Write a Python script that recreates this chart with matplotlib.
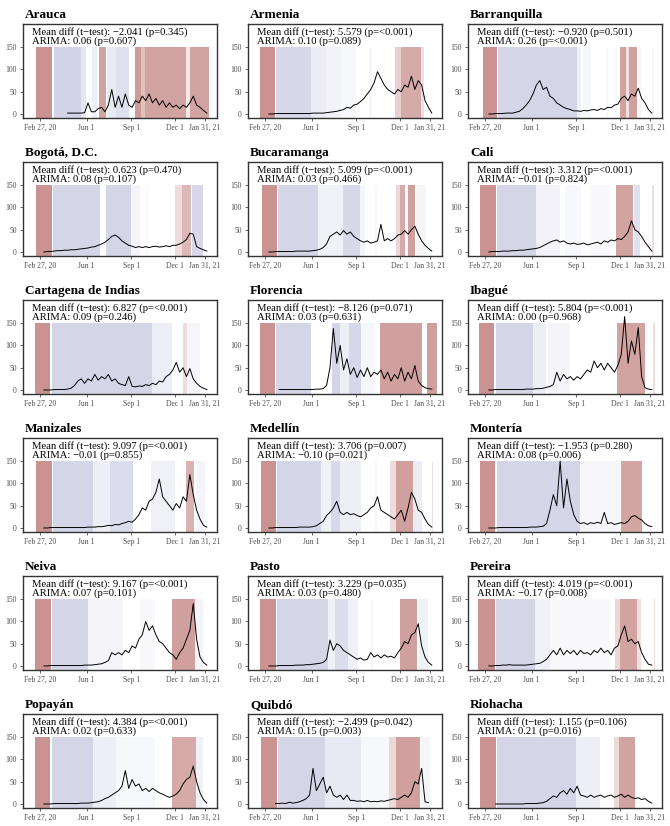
import numpy as np
import pandas as pd
import matplotlib
matplotlib.use("Agg")
import matplotlib.pyplot as plt

plt.rcParams['font.family'] = ['Liberation Serif', 'DejaVu Serif']

cities = ["Arauca", "Armenia", "Barranquilla", "Bogotá, D.C.", "Bucaramanga", "Cali",
          "Cartagena de Indias", "Florencia", "Ibagué", "Manizales", "Medellín", "Montería",
          "Neiva", "Pasto", "Pereira", "Popayán", "Quibdó", "Riohacha"]
mean_diff = [-2.041, 5.579, -0.920, 0.623, 5.099, 3.312, 6.827, -8.126, 5.804,
             9.097, 3.706, -1.953, 9.167, 3.229, 4.019, 4.384, -2.499, 1.155]
ttest_p = ["0.345", "<0.001", "0.501", "0.470", "<0.001", "<0.001", "<0.001", "0.071", "<0.001",
           "<0.001", "0.007", "0.280", "<0.001", "0.035", "<0.001", "<0.001", "0.042", "0.106"]
arima = [0.06, 0.10, 0.26, 0.08, 0.03, -0.01, 0.09, 0.03, 0.00,
         -0.01, -0.10, 0.08, 0.07, 0.03, -0.17, 0.02, 0.15, 0.21]
arima_p = ["0.607", "0.089", "<0.001", "0.107", "0.466", "0.824", "0.246", "0.631", "0.968",
           "0.855", "0.021", "0.006", "0.101", "0.480", "0.008", "0.633", "0.003", "0.016"]

# weekly readings, 2020-03-05 .. 2021-02-04 (None = no data yet)
week_start = "2020-03-05"
arauca = [None]*7 + [2, 2, 2, 2, 2, 3, 25, 5, 5, 12, 15, 5, 20, 55, 15, 40, 15, 45, 20, 15, 30, 25,
                     40, 30, 45, 25, 35, 20, 30, 15, 25, 15, 20, 12, 20, 15, 25, 40, 20, 15, 8, 2]
armenia = [0, 0, 1, 1, 1, 1, 1, 1, 1, 1, 1, 1, 1, 2, 2, 2, 2, 3, 4, 5, 6, 8, 10, 15, 13, 20, 22, 28,
           35, 45, 55, 70, 95, 80, 65, 55, 50, 45, 55, 50, 65, 60, 85, 55, 75, 65, 30, 15, 2]
barranquilla = [0, 0, 1, 1, 1, 2, 2, 2, 4, 6, 12, 20, 30, 45, 65, 75, 55, 60, 40, 35, 25, 20, 15, 12,
                10, 7, 7, 6, 8, 7, 9, 10, 8, 12, 10, 15, 14, 20, 22, 35, 40, 30, 45, 40, 58, 35, 25, 10, 2]
bogota = [0, 1, 1, 2, 3, 3, 4, 4, 5, 5, 6, 7, 8, 9, 11, 12, 15, 18, 22, 28, 35, 38, 33, 25, 20, 15,
          13, 10, 12, 10, 12, 10, 12, 13, 11, 12, 14, 12, 15, 15, 18, 22, 28, 42, 40, 12, 8, 5, 2]
bucaramanga = [0, 0, 1, 1, 1, 1, 1, 1, 2, 2, 2, 2, 2, 3, 4, 6, 10, 18, 35, 40, 45, 38, 48, 40, 45, 35,
               30, 25, 22, 25, 20, 22, 25, 62, 25, 30, 25, 30, 38, 40, 48, 40, 50, 58, 40, 25, 15, 8, 2]
cali = [0, 1, 1, 1, 2, 2, 2, 3, 3, 4, 4, 5, 6, 7, 8, 10, 14, 18, 22, 25, 27, 22, 25, 20, 18, 20,
        17, 18, 20, 16, 18, 20, 22, 18, 25, 22, 27, 25, 30, 28, 35, 45, 70, 50, 45, 35, 22, 12, 2]
cartagena = [0, 0, 0, 1, 1, 1, 1, 2, 4, 10, 20, 25, 15, 25, 20, 35, 22, 30, 25, 35, 20, 25, 15, 12,
             10, 30, 8, 7, 9, 8, 12, 10, 15, 12, 20, 18, 30, 35, 45, 62, 40, 50, 30, 48, 25, 15, 8, 4, 1]
florencia = [None]*3 + [1, 1, 1, 1, 1, 1, 1, 1, 1, 1, 1, 2, 2, 3, 10, 50, 138, 60, 100, 45, 70, 35, 50,
                        28, 45, 30, 50, 30, 40, 35, 45, 25, 40, 20, 35, 25, 50, 20, 40, 25, 55, 20, 10, 5, 3, 2]
ibague = [0, 0, 1, 1, 1, 1, 1, 1, 1, 1, 1, 2, 2, 2, 3, 3, 4, 6, 8, 12, 40, 20, 35, 25, 30, 22,
          30, 25, 35, 45, 40, 65, 50, 60, 45, 60, 50, 40, 55, 80, 165, 60, 110, 80, 140, 30, 5, 2, 1]
manizales = [0, 0, 1, 1, 1, 1, 1, 1, 1, 1, 1, 1, 1, 2, 2, 2, 3, 3, 4, 6, 5, 8, 7, 10, 12, 15,
             13, 20, 30, 45, 40, 60, 65, 80, 110, 70, 60, 50, 40, 55, 45, 70, 60, 120, 75, 40, 20, 6, 2]
medellin = [0, 0, 1, 1, 1, 1, 1, 1, 1, 2, 2, 2, 2, 3, 5, 10, 15, 28, 35, 45, 60, 35, 30, 35, 30, 32,
            28, 25, 30, 35, 45, 50, 70, 40, 35, 30, 25, 20, 30, 40, 15, 45, 80, 65, 40, 35, 20, 8, 2]
monteria = [0, 0, 0, 1, 1, 1, 1, 1, 1, 1, 1, 1, 2, 2, 2, 3, 4, 10, 40, 75, 50, 150, 45, 110, 60, 30,
            15, 10, 12, 8, 12, 10, 13, 10, 35, 10, 12, 8, 10, 12, 10, 15, 25, 28, 22, 18, 10, 5, 3]
neiva = [0, 0, 1, 1, 1, 1, 1, 1, 1, 1, 1, 1, 2, 2, 2, 3, 4, 5, 8, 12, 30, 25, 30, 25, 35, 30,
         45, 40, 60, 70, 100, 80, 90, 70, 55, 50, 40, 30, 25, 15, 30, 40, 60, 80, 140, 60, 20, 8, 2]
pasto = [0, 0, 0, 1, 1, 1, 1, 1, 2, 2, 2, 3, 3, 4, 5, 6, 8, 15, 58, 35, 50, 45, 35, 30, 25, 20,
         15, 18, 13, 15, 30, 20, 25, 18, 25, 20, 22, 18, 30, 40, 55, 50, 70, 75, 95, 45, 20, 8, 2]
pereira = [0, 0, 1, 1, 2, 2, 3, 2, 2, 2, 2, 2, 3, 4, 5, 6, 10, 15, 25, 35, 25, 40, 25, 35, 28, 35,
           25, 35, 28, 30, 25, 35, 30, 40, 30, 35, 25, 40, 45, 70, 90, 55, 60, 50, 55, 30, 15, 4, 2]
popayan = [0, 0, 0, 1, 1, 1, 1, 1, 1, 1, 1, 2, 2, 2, 3, 4, 5, 8, 12, 15, 20, 25, 30, 40, 75, 35,
           55, 40, 45, 30, 35, 28, 35, 30, 25, 22, 18, 15, 18, 22, 30, 45, 55, 60, 85, 50, 25, 10, 2]
quibdo = [None]*2 + [1, 1, 2, 1, 4, 2, 3, 5, 8, 12, 20, 80, 30, 45, 60, 25, 40, 20, 15, 20, 10, 20,
                     8, 8, 6, 7, 5, 8, 5, 6, 5, 7, 6, 8, 10, 12, 10, 15, 20, 15, 25, 50, 45, 80, 5, 3, None]
riohacha = [None]*2 + [0, 0, 0, 0, 0, 0, 0, 0, 0, 1, 1, 1, 1, 2, 3, 6, 12, 18, 15, 25, 30, 22, 35,
                       25, 40, 20, 18, 15, 20, 15, 18, 20, 15, 18, 20, 15, 18, 22, 15, 20, 15, 12, 14, 10, 12, 6, 2]
series = [arauca, armenia, barranquilla, bogota, bucaramanga, cali, cartagena, florencia, ibague,
          manizales, medellin, monteria, neiva, pasto, pereira, popayan, quibdo, riohacha]

# shaded periods: (start, end, shade) ; shade > 0 red, < 0 blue
arauca_bands = [("2020-02-18", "2020-03-22", 0.7), ("2020-03-25", "2020-05-20", -0.32),
                ("2020-05-20", "2020-05-31", -0.18), ("2020-06-13", "2020-06-23", -0.12),
                ("2020-06-27", "2020-07-11", 0.6), ("2020-07-14", "2020-08-01", -0.15),
                ("2020-08-01", "2020-08-28", -0.22), ("2020-09-09", "2020-09-22", 0.65),
                ("2020-09-22", "2020-09-30", 0.4), ("2020-09-30", "2020-12-24", 0.6),
                ("2020-12-24", "2020-12-31", 0.15), ("2020-12-31", "2021-02-09", 0.6)]
armenia_bands = [("2020-02-16", "2020-03-18", 0.7), ("2020-03-20", "2020-05-30", -0.28),
                 ("2020-05-30", "2020-07-01", -0.14), ("2020-07-01", "2020-08-01", -0.09),
                 ("2020-08-01", "2020-09-01", -0.05), ("2020-09-28", "2020-10-04", -0.06),
                 ("2020-11-20", "2020-12-02", 0.3), ("2020-12-02", "2021-01-12", 0.55),
                 ("2021-01-12", "2021-01-19", 0.2)]
barranquilla_bands = [("2020-02-21", "2020-03-22", 0.7), ("2020-03-24", "2020-09-03", -0.3),
                      ("2020-09-03", "2020-09-10", -0.1), ("2020-09-15", "2020-10-01", -0.05),
                      ("2020-11-01", "2020-11-05", -0.05), ("2020-11-20", "2020-11-24", -0.05),
                      ("2020-12-01", "2020-12-12", 0.6), ("2020-12-12", "2020-12-19", 0.2),
                      ("2020-12-19", "2021-01-05", 0.62), ("2021-01-08", "2021-01-12", -0.08),
                      ("2021-02-05", "2021-02-09", -0.06)]
bogota_bands = [("2020-02-18", "2020-03-22", 0.7), ("2020-03-24", "2020-06-28", -0.3),
                ("2020-07-12", "2020-09-01", -0.3), ("2020-09-01", "2020-09-20", -0.07),
                ("2020-10-01", "2020-10-05", -0.04), ("2020-11-30", "2020-12-14", 0.22),
                ("2020-12-14", "2021-01-02", 0.45), ("2021-01-05", "2021-01-27", -0.28)]
bucaramanga_bands = [("2020-02-20", "2020-03-22", 0.7), ("2020-03-24", "2020-06-15", -0.3),
                     ("2020-06-15", "2020-08-05", -0.1), ("2020-08-05", "2020-09-08", -0.28),
                     ("2020-09-08", "2020-09-20", -0.06), ("2020-10-10", "2020-10-15", -0.05),
                     ("2020-11-22", "2020-12-01", 0.25), ("2020-12-01", "2020-12-10", 0.55),
                     ("2020-12-16", "2021-01-01", 0.62), ("2021-01-03", "2021-01-22", -0.08)]
cali_bands = [("2020-02-15", "2020-03-19", 0.7), ("2020-03-21", "2020-06-10", -0.3),
              ("2020-06-10", "2020-07-30", -0.09), ("2020-08-10", "2020-09-10", -0.05),
              ("2020-10-01", "2020-11-10", -0.04), ("2020-11-22", "2020-12-28", 0.6),
              ("2020-12-30", "2021-01-11", -0.22), ("2021-02-04", "2021-02-08", 0.2)]
cartagena_bands = [("2020-02-16", "2020-03-18", 0.7), ("2020-03-22", "2020-10-15", -0.3),
                   ("2020-10-15", "2020-11-25", -0.13), ("2020-12-17", "2020-12-25", 0.22),
                   ("2020-12-28", "2021-01-20", -0.06)]
florencia_bands = [("2020-02-15", "2020-03-18", 0.7), ("2020-03-20", "2020-05-30", -0.3),
                   ("2020-07-13", "2020-07-30", -0.3), ("2020-07-30", "2020-08-18", -0.12),
                   ("2020-08-18", "2020-09-10", -0.28), ("2020-09-10", "2020-10-10", -0.05),
                   ("2020-10-20", "2021-01-14", 0.62), ("2021-01-26", "2021-02-14", 0.62)]
ibague_bands = [("2020-02-14", "2020-03-16", 0.7), ("2020-03-20", "2020-06-05", -0.3),
                ("2020-06-05", "2020-07-01", -0.12), ("2020-07-05", "2020-08-20", -0.08),
                ("2020-11-25", "2021-01-20", 0.6), ("2021-02-07", "2021-02-10", 0.2)]
manizales_bands = [("2020-02-18", "2020-03-22", 0.7), ("2020-03-24", "2020-06-15", -0.3),
                   ("2020-06-15", "2020-07-20", -0.12), ("2020-07-20", "2020-09-05", -0.25),
                   ("2020-10-12", "2020-11-30", -0.1), ("2020-12-24", "2021-01-08", 0.5),
                   ("2021-01-12", "2021-02-01", -0.08)]
medellin_bands = [("2020-02-17", "2020-03-20", 0.7), ("2020-03-22", "2020-06-20", -0.3),
                  ("2020-06-20", "2020-07-12", -0.1), ("2020-07-12", "2020-07-30", -0.28),
                  ("2020-07-30", "2020-09-10", -0.12), ("2020-10-10", "2020-10-14", -0.06),
                  ("2020-11-10", "2020-11-22", 0.22), ("2020-11-22", "2020-12-28", 0.62),
                  ("2020-12-28", "2021-01-15", -0.14), ("2021-02-04", "2021-02-07", 0.18)]
monteria_bands = [("2020-02-15", "2020-03-18", 0.7), ("2020-03-22", "2020-09-08", -0.3),
                  ("2020-09-08", "2020-11-30", -0.06), ("2020-12-03", "2021-01-15", 0.58)]
neiva_bands = [("2020-02-16", "2020-03-20", 0.7), ("2020-03-22", "2020-06-05", -0.3),
               ("2020-06-05", "2020-08-15", -0.08), ("2020-09-20", "2020-10-20", -0.04),
               ("2020-11-25", "2021-01-10", 0.62), ("2021-01-10", "2021-01-28", -0.08)]
pasto_bands = [("2020-02-15", "2020-03-20", 0.7), ("2020-03-22", "2020-07-05", -0.3),
               ("2020-07-05", "2020-07-20", -0.1), ("2020-07-20", "2020-08-15", -0.25),
               ("2020-08-15", "2020-09-05", -0.1), ("2020-10-01", "2020-10-05", -0.05),
               ("2020-12-01", "2021-01-05", 0.62), ("2021-01-08", "2021-01-28", -0.1)]
pereira_bands = [("2020-02-12", "2020-03-18", 0.7), ("2020-03-20", "2020-06-08", -0.3),
                 ("2020-06-08", "2020-07-10", -0.1), ("2020-07-10", "2020-11-10", -0.04),
                 ("2020-11-20", "2020-12-01", 0.25), ("2020-12-01", "2021-01-05", 0.6),
                 ("2021-01-05", "2021-01-12", 0.2), ("2021-02-08", "2021-02-11", 0.22)]
popayan_bands = [("2020-02-15", "2020-03-17", 0.7), ("2020-03-21", "2020-06-15", -0.3),
                 ("2020-06-15", "2020-08-01", -0.12), ("2020-08-01", "2020-10-20", -0.05),
                 ("2020-11-25", "2021-01-12", 0.55), ("2021-01-12", "2021-01-28", -0.1)]
quibdo_bands = [("2020-02-17", "2020-03-22", 0.7), ("2020-03-24", "2020-06-28", -0.3),
                ("2020-06-28", "2020-09-10", -0.16), ("2020-09-10", "2020-11-07", -0.05),
                ("2020-11-07", "2020-11-22", 0.25), ("2020-11-22", "2021-01-10", 0.62),
                ("2021-01-12", "2021-02-01", -0.07)]
riohacha_bands = [("2020-02-15", "2020-03-20", 0.7), ("2020-03-22", "2020-09-01", -0.3),
                  ("2020-09-01", "2020-10-20", -0.12), ("2020-11-18", "2020-11-28", 0.25),
                  ("2020-11-28", "2021-01-01", 0.6)]
bands = [arauca_bands, armenia_bands, barranquilla_bands, bogota_bands, bucaramanga_bands,
         cali_bands, cartagena_bands, florencia_bands, ibague_bands, manizales_bands,
         medellin_bands, monteria_bands, neiva_bands, pasto_bands, pereira_bands,
         popayan_bands, quibdo_bands, riohacha_bands]

tick_dates = ["2020-02-27", "2020-06-01", "2020-09-01", "2020-12-01", "2021-01-31"]
tick_labels = ["Feb 27, 20", "Jun 1", "Sep 1", "Dec 1", "Jan 31, 21"]

red = "#9e3a36"
blue = "#5a5fa8"
ylo, yhi = -9, 202


def fmt(v):
    return f"{v:.3f}".replace("-", "\u2212")


def fmt2(v):
    return f"{v:.2f}".replace("-", "\u2212")


fig = plt.figure(figsize=(6.7, 8.26), dpi=100)
W, H = 670, 826
col_left = [23, 248, 468]
ax_w, ax_h = 194, 94

for i, city in enumerate(cities):
    r, c = divmod(i, 3)
    top = 24 + 138 * r
    ax = fig.add_axes([col_left[c] / W, 1 - (top + ax_h) / H, ax_w / W, ax_h / H])

    for s, e, v in bands[i]:
        if v > 0:
            col, a = red, v * 0.78
        else:
            col, a = blue, -v * 0.85
        ax.axvspan(pd.Timestamp(s), pd.Timestamp(e), ymin=0, ymax=(150 - ylo) / (yhi - ylo),
                   color=col, alpha=a, lw=0)

    vals = np.array([np.nan if v is None else v for v in series[i]], dtype=float)
    dates = pd.date_range(week_start, periods=len(vals), freq="7D")
    ax.plot(dates, vals, color="black", lw=0.7)

    ax.set_xlim(pd.Timestamp("2020-01-22"), pd.Timestamp("2021-02-25"))
    ax.set_ylim(ylo, yhi)
    ax.set_yticks([0, 50, 100, 150])
    ax.set_xticks([pd.Timestamp(d) for d in tick_dates])
    ax.set_xticklabels(tick_labels)
    ax.tick_params(labelsize=5.5, colors="#4d4d4d", length=2.5, width=0.6, pad=2)
    for sp in ax.spines.values():
        sp.set_linewidth(1.0)
        sp.set_color("#333333")

    ax.text(0.01, 1.065, city, transform=ax.transAxes, fontsize=9.5, fontweight="bold",
            ha="left", va="baseline")
    ax.text(0.045, 0.89, f"Mean diff (t\u2212test): {fmt(mean_diff[i])} (p={ttest_p[i]})",
            transform=ax.transAxes, fontsize=7.7, ha="left", va="baseline")
    ax.text(0.045, 0.795, f"ARIMA: {fmt2(arima[i])} (p={arima_p[i]})",
            transform=ax.transAxes, fontsize=7.7, ha="left", va="baseline")

fig.savefig("out.png", dpi=100)
